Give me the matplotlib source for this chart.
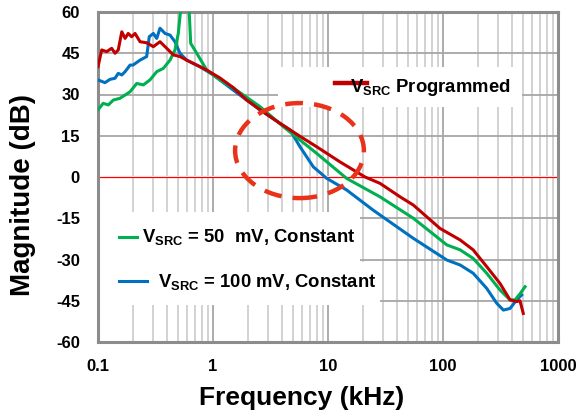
import matplotlib
matplotlib.use('Agg')
import matplotlib.pyplot as plt
from matplotlib.patches import Ellipse, Rectangle
from matplotlib.ticker import FixedLocator, LogLocator, NullFormatter

plt.rcParams['font.family'] = 'Liberation Sans'
plt.rcParams['font.weight'] = 'bold'
plt.rcParams['mathtext.fontset'] = 'custom'
plt.rcParams['mathtext.rm'] = 'Liberation Sans:bold'
plt.rcParams['mathtext.bf'] = 'Liberation Sans:bold'
plt.rcParams['mathtext.it'] = 'Liberation Sans:bold'

# loop gain magnitude, frequency in kHz, magnitude in dB
freq_prog = [0.1, 0.1077, 0.119, 0.1315, 0.1406, 0.150, 0.161, 0.172, 0.183, 0.196,
             0.210, 0.232, 0.265, 0.303, 0.346, 0.396, 0.452, 0.516, 0.590, 0.674,
             0.881, 1.15, 1.50, 1.96, 2.56, 3.83, 5.71, 7.97, 12.7, 21.0,
             28.3, 42.3, 55.2, 94.2, 141, 183, 240, 313, 383, 437, 467, 499]
mag_prog = [40.1, 46.2, 45.6, 46.8, 45.0, 46.2, 52.8, 50.4, 52.2, 51.0,
            52.2, 49.2, 48.8, 47.4, 49.2, 46.8, 44.4, 43.8, 42.5, 41.3,
            38.9, 36.0, 32.5, 28.0, 24.5, 19.5, 14.8, 11.0, 5.5, 0.0,
            -2.3, -7.2, -10.2, -18.7, -22.9, -26.5, -32.6, -38.7, -44.7, -45.3, -45.0, -49.6]

freq_50mv = [0.1, 0.111, 0.123, 0.136, 0.155, 0.172, 0.190, 0.217, 0.248, 0.283,
             0.324, 0.370, 0.423, 0.467, 0.499, 0.524, 0.55, 0.59, 0.62, 0.640,
             0.722, 0.881, 1.15, 1.50, 2.56, 4.09, 7.97, 14.5, 28.3, 55.2,
             108, 141, 183, 240, 313, 383, 423, 467, 517]
mag_50mv = [24.4, 26.8, 26.2, 28.0, 28.6, 29.8, 31.0, 34.0, 33.5, 35.3,
            38.3, 39.5, 42.5, 46.2, 52.2, 61.0, 63.0, 62.0, 60.5, 48.6,
            45.0, 38.9, 35.3, 32.4, 25.6, 18.3, 8.6, -0.5, -7.2, -15.0,
            -24.7, -26.5, -29.6, -35.0, -41.1, -44.7, -44.7, -42.5, -39.9]

freq_100mv = [0.1, 0.115, 0.127, 0.1406, 0.150, 0.161, 0.172, 0.190, 0.2015, 0.232,
              0.265, 0.279, 0.303, 0.324, 0.346, 0.383, 0.423, 0.467, 0.516, 0.590,
              0.771, 1.006, 1.50, 2.56, 3.83, 4.67, 5.71, 7.45, 9.75, 14.5,
              24.6, 28.3, 55.2, 108, 141, 183, 240, 293, 335, 383, 437, 483]
mag_100mv = [35.3, 34.3, 35.5, 35.9, 37.7, 37.1, 38.3, 40.7, 40.7, 42.5,
             43.8, 51.0, 52.2, 50.4, 54.1, 52.2, 51.6, 49.2, 45.0, 42.5,
             40.1, 37.1, 31.6, 24.4, 19.5, 17.1, 11.0, 3.7, -0.5, -4.7,
             -12.0, -13.8, -22.3, -30.2, -32.0, -35.0, -40.5, -45.9, -48.4, -47.8, -44.7, -42.9]

x_ticks = [0.1, 1, 10, 100, 1000]
x_tick_labels = ['0.1', '1', '10', '100', '1000']
y_ticks = list(range(-60, 61, 15))

c_prog = '#C00000'
c_50 = '#00B050'
c_100 = '#0070C0'

fig = plt.figure(figsize=(5.79, 4.12), dpi=100)
ax = fig.add_axes([98 / 579, 70 / 412, 460 / 579, 330 / 412])

ax.set_xscale('log')
ax.set_xlim(0.1, 1000)
ax.set_ylim(-60, 60)
ax.xaxis.set_major_locator(FixedLocator(x_ticks))
ax.set_xticklabels(x_tick_labels)
ax.xaxis.set_minor_locator(LogLocator(base=10, subs=range(2, 10), numticks=20))
ax.xaxis.set_minor_formatter(NullFormatter())
ax.set_yticks(y_ticks)
ax.set_yticklabels([str(v) for v in y_ticks])
ax.tick_params(which='both', length=0)
ax.tick_params(axis='y', labelsize=12, pad=13)
ax.tick_params(axis='x', labelsize=12, pad=12)

ax.grid(True, which='major', color='#A6A6A6', linewidth=1.3, zorder=0)
ax.grid(True, which='minor', axis='x', color='#CFCFCF', linewidth=1.3, zorder=0)
ax.set_axisbelow(True)
for sp in ax.spines.values():
    sp.set_color('#8C8C8C')
    sp.set_linewidth(2.2)

# white backing so the zero line is not tinted by the grid line under it
ax.axhline(0, color='white', linewidth=1.6, zorder=2.4)
ax.axhline(0, color='#FF0000', linewidth=0.9, zorder=2.5)

# white boxes behind the legend entries
boxes = [(0.0, 0.242, 0.570, 0.152), (0.0, 0.112, 0.613, 0.130), (0.391, 0.712, 0.531, 0.121)]
for bx, by, bw, bh in boxes:
    ax.add_patch(Rectangle((bx, by), bw, bh, transform=ax.transAxes,
                           facecolor='white', edgecolor='none', zorder=1.5))

ax.plot(freq_100mv, mag_100mv, color=c_100, linewidth=2.2, zorder=3)
ax.plot(freq_50mv, mag_50mv, color=c_50, linewidth=2.2, zorder=3)
ax.plot(freq_prog, mag_prog, color=c_prog, linewidth=2.2, zorder=3)

# legend entries
ax.plot([0.5152, 0.5848], [0.786, 0.786], color=c_prog, linewidth=3.2, transform=ax.transAxes)
ax.text(0.548, 0.7585, r'$\mathrm{V_{SRC}}$ Programmed', transform=ax.transAxes,
        fontsize=13.3, fontweight='bold', va='baseline', zorder=5)
ax.plot([0.0457, 0.0848], [0.318, 0.318], color=c_50, linewidth=2.2, transform=ax.transAxes)
ax.text(0.0957, 0.304, r'$\mathrm{V_{SRC}}$ = 50  mV, Constant', transform=ax.transAxes,
        fontsize=13.3, fontweight='bold', va='baseline', zorder=5)
ax.plot([0.0457, 0.1065], [0.185, 0.185], color=c_100, linewidth=2.2, transform=ax.transAxes)
ax.text(0.130, 0.1676, r'$\mathrm{V_{SRC}}$ = 100 mV, Constant', transform=ax.transAxes,
        fontsize=13.3, fontweight='bold', va='baseline', zorder=5)

# dashed highlight around the crossover region
ax.add_patch(Ellipse((0.438, 0.580), 0.280, 0.288, transform=ax.transAxes,
                     fill=False, edgecolor='#E8321A', linewidth=3.2,
                     linestyle=(0, (4, 2.5)), zorder=6))

fig.text(302 / 579, 1 - 398 / 412, 'Frequency (kHz)', fontsize=19, fontweight='bold',
         ha='center', va='center')
fig.text(23 / 579, 1 - 195 / 412, 'Magnitude (dB)', fontsize=20, fontweight='bold',
         ha='center', va='center', rotation=90)

fig.savefig('out.png', dpi=100, facecolor='white')
